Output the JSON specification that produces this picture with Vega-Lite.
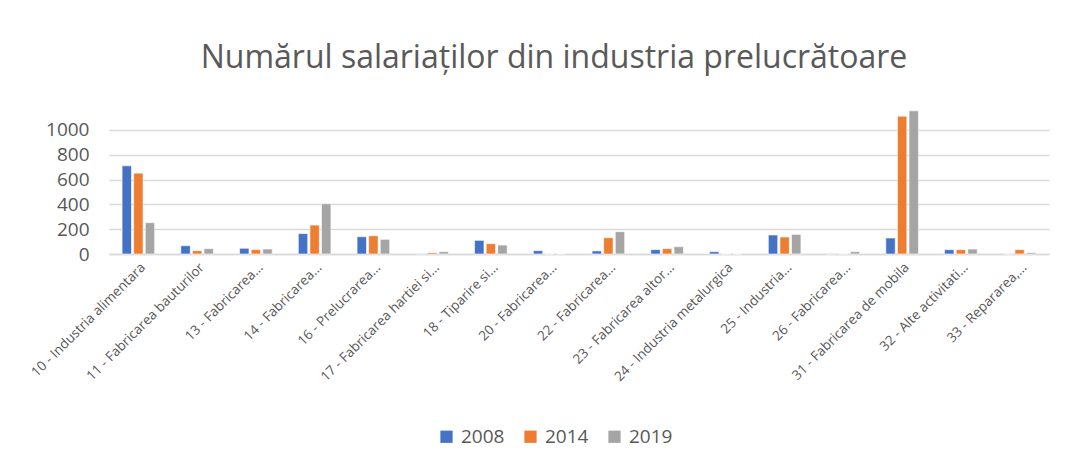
{
  "$schema": "https://vega.github.io/schema/vega-lite/v6.json",
  "width": 940,
  "height": 149,
  "autosize": {"type": "none"},
  "padding": {"left": 109, "top": 105, "right": 37, "bottom": 214},
  "background": "white",
  "config": {
    "view": {"stroke": null},
    "font": "Open Sans"
  },
  "title": {
    "text": "Numărul salariaților din industria prelucrătoare",
    "font": "Open Sans",
    "fontSize": 32,
    "fontWeight": "normal",
    "color": "#595959",
    "anchor": "middle",
    "frame": "group",
    "dx": -25,
    "offset": 30
  },
  "data": {
    "values": [
      {"cat": "10 - Industria alimentara", "year": "2008", "v": 710},
      {"cat": "10 - Industria alimentara", "year": "2014", "v": 651},
      {"cat": "10 - Industria alimentara", "year": "2019", "v": 252},
      {"cat": "11 - Fabricarea bauturilor", "year": "2008", "v": 67},
      {"cat": "11 - Fabricarea bauturilor", "year": "2014", "v": 27},
      {"cat": "11 - Fabricarea bauturilor", "year": "2019", "v": 43},
      {"cat": "13 - Fabricarea…", "year": "2008", "v": 46},
      {"cat": "13 - Fabricarea…", "year": "2014", "v": 35},
      {"cat": "13 - Fabricarea…", "year": "2019", "v": 40},
      {"cat": "14 - Fabricarea…", "year": "2008", "v": 164},
      {"cat": "14 - Fabricarea…", "year": "2014", "v": 233},
      {"cat": "14 - Fabricarea…", "year": "2019", "v": 405},
      {"cat": "16 - Prelucrarea…", "year": "2008", "v": 139},
      {"cat": "16 - Prelucrarea…", "year": "2014", "v": 147},
      {"cat": "16 - Prelucrarea…", "year": "2019", "v": 118},
      {"cat": "17 - Fabricarea hartiei si…", "year": "2008", "v": 2},
      {"cat": "17 - Fabricarea hartiei si…", "year": "2014", "v": 11},
      {"cat": "17 - Fabricarea hartiei si…", "year": "2019", "v": 19},
      {"cat": "18 - Tiparire si…", "year": "2008", "v": 110},
      {"cat": "18 - Tiparire si…", "year": "2014", "v": 83},
      {"cat": "18 - Tiparire si…", "year": "2019", "v": 72},
      {"cat": "20 - Fabricarea…", "year": "2008", "v": 27},
      {"cat": "20 - Fabricarea…", "year": "2014", "v": 0},
      {"cat": "20 - Fabricarea…", "year": "2019", "v": 0},
      {"cat": "22 - Fabricarea…", "year": "2008", "v": 25},
      {"cat": "22 - Fabricarea…", "year": "2014", "v": 131},
      {"cat": "22 - Fabricarea…", "year": "2019", "v": 180},
      {"cat": "23 - Fabricarea altor…", "year": "2008", "v": 35},
      {"cat": "23 - Fabricarea altor…", "year": "2014", "v": 43},
      {"cat": "23 - Fabricarea altor…", "year": "2019", "v": 59},
      {"cat": "24 - Industria metalurgica", "year": "2008", "v": 19},
      {"cat": "24 - Industria metalurgica", "year": "2014", "v": 0},
      {"cat": "24 - Industria metalurgica", "year": "2019", "v": 0},
      {"cat": "25 - Industria…", "year": "2008", "v": 153},
      {"cat": "25 - Industria…", "year": "2014", "v": 137},
      {"cat": "25 - Industria…", "year": "2019", "v": 158},
      {"cat": "26 - Fabricarea…", "year": "2008", "v": 2},
      {"cat": "26 - Fabricarea…", "year": "2014", "v": 0},
      {"cat": "26 - Fabricarea…", "year": "2019", "v": 19},
      {"cat": "31 - Fabricarea de mobila", "year": "2008", "v": 129},
      {"cat": "31 - Fabricarea de mobila", "year": "2014", "v": 1110},
      {"cat": "31 - Fabricarea de mobila", "year": "2019", "v": 1153},
      {"cat": "32 - Alte activitati…", "year": "2008", "v": 35},
      {"cat": "32 - Alte activitati…", "year": "2014", "v": 35},
      {"cat": "32 - Alte activitati…", "year": "2019", "v": 40},
      {"cat": "33 - Repararea,…", "year": "2008", "v": 1},
      {"cat": "33 - Repararea,…", "year": "2014", "v": 35},
      {"cat": "33 - Repararea,…", "year": "2019", "v": 11}
    ]
  },
  "mark": {"type": "bar", "stroke": "white", "strokeWidth": 0.6},
  "encoding": {
    "x": {
      "field": "cat",
      "type": "nominal",
      "sort": null,
      "title": null,
      "scale": {"paddingInner": 0.445, "paddingOuter": 0.2225},
      "axis": {
        "labelAngle": -45,
        "labelFont": "Open Sans",
        "labelFontSize": 13.5,
        "labelColor": "#595959",
        "labelPadding": 6,
        "labelLimit": 300,
        "ticks": false,
        "domainColor": "#D9D9D9",
        "domainWidth": 1.3,
        "grid": false
      }
    },
    "xOffset": {
      "field": "year",
      "type": "nominal",
      "scale": {"paddingInner": 0.19, "paddingOuter": 0}
    },
    "y": {
      "field": "v",
      "type": "quantitative",
      "title": null,
      "scale": {"domain": [0, 1200], "nice": false},
      "axis": {
        "values": [0, 200, 400, 600, 800, 1000],
        "format": "d",
        "labelFont": "Open Sans",
        "labelFontSize": 19,
        "labelColor": "#595959",
        "labelPadding": 20,
        "domain": false,
        "ticks": false,
        "gridColor": "#D9D9D9",
        "gridWidth": 1.3
      }
    },
    "color": {
      "field": "year",
      "type": "nominal",
      "title": null,
      "scale": {"domain": ["2008", "2014", "2019"], "range": ["#4472C4", "#ED7D31", "#A5A5A5"]},
      "legend": {
        "orient": "none",
        "direction": "horizontal",
        "legendX": 328,
        "legendY": 322,
        "symbolType": "square",
        "symbolSize": 150,
        "symbolStrokeWidth": 0,
        "labelFont": "Open Sans",
        "labelFontSize": 19,
        "labelColor": "#595959",
        "columnPadding": 16,
        "labelOffset": 5
      }
    }
  }
}
